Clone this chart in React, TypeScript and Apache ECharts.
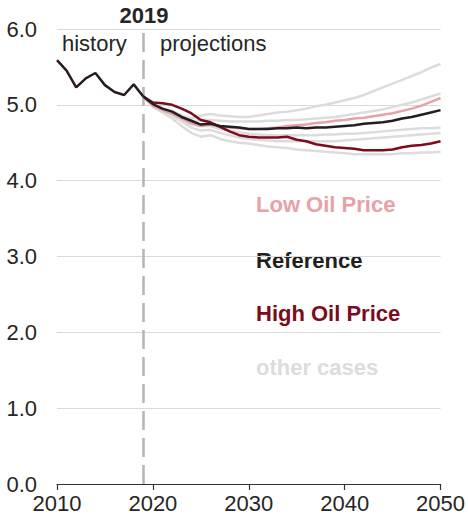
import React, { useEffect, useRef } from "react";
import * as echarts from "echarts";

const historyYears = [2010, 2011, 2012, 2013, 2014, 2015, 2016, 2017, 2018, 2019];
const historyValues = [5.59, 5.45, 5.23, 5.35, 5.42, 5.26, 5.17, 5.13, 5.27, 5.11];

const projYears = [
  2019, 2020, 2021, 2022, 2023, 2024, 2025, 2026, 2027, 2028, 2029, 2030, 2031, 2032, 2033, 2034,
  2035, 2036, 2037, 2038, 2039, 2040, 2041, 2042, 2043, 2044, 2045, 2046, 2047, 2048, 2049, 2050,
];

const referenceValues = [
  5.11, 5.01, 4.95, 4.91, 4.84, 4.79, 4.74, 4.75, 4.72, 4.71, 4.70, 4.68, 4.68, 4.68, 4.69, 4.69,
  4.70, 4.69, 4.70, 4.70, 4.71, 4.72, 4.73, 4.75, 4.76, 4.77, 4.79, 4.82, 4.84, 4.87, 4.90, 4.93,
];
const lowOilValues = [
  5.11, 4.99, 4.93, 4.88, 4.82, 4.76, 4.72, 4.74, 4.71, 4.70, 4.69, 4.68, 4.68, 4.69, 4.70, 4.72,
  4.73, 4.74, 4.76, 4.77, 4.79, 4.80, 4.82, 4.83, 4.85, 4.87, 4.89, 4.92, 4.95, 4.99, 5.04, 5.09,
];
const highOilValues = [
  5.11, 5.03, 5.02, 5.00, 4.95, 4.89, 4.80, 4.77, 4.71, 4.65, 4.60, 4.58, 4.57, 4.57, 4.57, 4.58,
  4.54, 4.52, 4.48, 4.46, 4.44, 4.43, 4.42, 4.40, 4.40, 4.40, 4.41, 4.44, 4.46, 4.47, 4.49, 4.52,
];
const otherCase1 = [
  5.11, 5.00, 4.95, 4.92, 4.86, 4.82, 4.86, 4.88, 4.86, 4.85, 4.84, 4.84, 4.86, 4.88, 4.90, 4.91,
  4.93, 4.95, 4.98, 5.00, 5.03, 5.06, 5.09, 5.13, 5.18, 5.23, 5.28, 5.33, 5.38, 5.43, 5.49, 5.54,
];
const otherCase2 = [
  5.11, 4.99, 4.94, 4.89, 4.83, 4.78, 4.80, 4.80, 4.79, 4.78, 4.78, 4.78, 4.78, 4.79, 4.79, 4.80,
  4.80, 4.81, 4.82, 4.83, 4.84, 4.86, 4.88, 4.90, 4.92, 4.94, 4.97, 5.00, 5.03, 5.07, 5.11, 5.15,
];
const otherCase3 = [
  5.11, 4.99, 4.93, 4.88, 4.80, 4.74, 4.72, 4.72, 4.68, 4.66, 4.64, 4.62, 4.61, 4.60, 4.60, 4.60,
  4.60, 4.60, 4.60, 4.61, 4.61, 4.62, 4.62, 4.63, 4.64, 4.65, 4.66, 4.67, 4.68, 4.69, 4.69, 4.70,
];
const otherCase4 = [
  5.11, 4.98, 4.92, 4.86, 4.78, 4.70, 4.66, 4.67, 4.63, 4.60, 4.57, 4.55, 4.54, 4.53, 4.52, 4.52,
  4.52, 4.52, 4.52, 4.52, 4.52, 4.53, 4.54, 4.55, 4.56, 4.57, 4.58, 4.59, 4.60, 4.61, 4.62, 4.63,
];
const otherCase5 = [
  5.11, 4.97, 4.90, 4.82, 4.72, 4.63, 4.58, 4.60, 4.55, 4.52, 4.50, 4.49, 4.47, 4.45, 4.44, 4.43,
  4.41, 4.40, 4.39, 4.38, 4.37, 4.36, 4.35, 4.35, 4.35, 4.35, 4.35, 4.36, 4.36, 4.37, 4.37, 4.38,
];
const otherCases = [otherCase1, otherCase2, otherCase3, otherCase4, otherCase5];

const yTicks = [0, 1, 2, 3, 4, 5, 6];
const xTicks = [2010, 2020, 2030, 2040, 2050];
const dividerYear = 2019;

const FONT = "'Liberation Sans', Arial, sans-serif";
const FS = 22;
const COLORS = {
  reference: "#231f20",
  low: "#e8a1a9",
  high: "#7d0b1c",
  other: "#dcdcdc",
  text: "#262626",
};

const pair = (xs: number[], ys: number[]) => xs.map((x, i) => [x, ys[i]]);

export default function App() {
  const ref = useRef<HTMLDivElement>(null);
  useEffect(() => {
    document.body.style.margin = "0";
    if (!ref.current) return;
    const chart = echarts.init(ref.current, undefined, { renderer: "svg" });
    const lineBase = {
      type: "line" as const,
      showSymbol: false,
      symbol: "none",
      silent: true,
    };
    const series: any[] = [];
    otherCases.forEach((vals, i) => {
      series.push({
        ...lineBase,
        name: "other" + i,
        data: pair(projYears, vals),
        lineStyle: { color: COLORS.other, width: 2.5 },
        z: 1,
      });
    });
    series.push({
      ...lineBase,
      name: "Low Oil Price",
      data: pair(projYears, lowOilValues),
      lineStyle: { color: COLORS.low, width: 2.5 },
      z: 3,
    });
    series.push({
      ...lineBase,
      name: "High Oil Price",
      data: pair(projYears, highOilValues),
      lineStyle: { color: COLORS.high, width: 2.5 },
      z: 4,
    });
    series.push({
      ...lineBase,
      name: "Reference",
      data: pair(projYears, referenceValues),
      lineStyle: { color: COLORS.reference, width: 2.5 },
      z: 5,
    });
    series.push({
      ...lineBase,
      name: "history",
      data: pair(historyYears, historyValues),
      lineStyle: { color: "#2a1b1f", width: 2.5 },
      z: 5,
      markLine: {
        silent: true,
        symbol: "none",
        label: { show: false },
        lineStyle: { color: "#b5b5b5", width: 2.5, type: [19, 8] },
        data: [{ xAxis: dividerYear }],
      },
    });

    chart.setOption({
      animation: false,
      grid: { left: 57, right: 26, top: 29, bottom: 39, containLabel: false },
      xAxis: {
        type: "value",
        min: xTicks[0],
        max: xTicks[xTicks.length - 1],
        interval: 10,
        axisLine: { show: true, lineStyle: { color: "#333", width: 1.2 } },
        axisTick: { show: true, inside: false, length: 6, lineStyle: { color: "#333", width: 1.2 } },
        splitLine: { show: false },
        axisLabel: {
          color: COLORS.text,
          fontSize: FS,
          fontFamily: FONT,
          margin: 8,
          formatter: (v: number) => String(v),
        },
      },
      yAxis: {
        type: "value",
        min: yTicks[0],
        max: yTicks[yTicks.length - 1],
        interval: 1,
        axisLine: { show: false },
        axisTick: { show: false },
        splitLine: { show: true, lineStyle: { color: "#dadada", width: 1.2 } },
        axisLabel: {
          color: COLORS.text,
          fontSize: FS,
          fontFamily: FONT,
          margin: 20,
          formatter: (v: number) => v.toFixed(1),
        },
      },
      graphic: [
        {
          type: "text",
          x: 144,
          y: 15,
          style: {
            text: "2019",
            font: `bold ${FS}px ${FONT}`,
            fill: COLORS.text,
            textAlign: "center",
            textVerticalAlign: "middle",
          },
        },
        {
          type: "text",
          x: 62,
          y: 43,
          style: {
            text: "history",
            font: `${FS}px ${FONT}`,
            fill: COLORS.text,
            textAlign: "left",
            textVerticalAlign: "middle",
          },
        },
        {
          type: "text",
          x: 160,
          y: 43,
          style: {
            text: "projections",
            font: `${FS}px ${FONT}`,
            fill: COLORS.text,
            textAlign: "left",
            textVerticalAlign: "middle",
          },
        },
        {
          type: "text",
          x: 256,
          y: 204,
          style: { text: "Low Oil Price", font: `bold ${FS}px ${FONT}`, fill: COLORS.low, textVerticalAlign: "middle" },
        },
        {
          type: "text",
          x: 256,
          y: 260,
          style: { text: "Reference", font: `bold ${FS}px ${FONT}`, fill: COLORS.reference, textVerticalAlign: "middle" },
        },
        {
          type: "text",
          x: 256,
          y: 313,
          style: { text: "High Oil Price", font: `bold ${FS}px ${FONT}`, fill: COLORS.high, textVerticalAlign: "middle" },
        },
        {
          type: "text",
          x: 256,
          y: 367,
          style: { text: "other cases", font: `bold ${FS}px ${FONT}`, fill: COLORS.other, textVerticalAlign: "middle" },
        },
      ],
      series,
    });
    return () => chart.dispose();
  }, []);
  return <div ref={ref} style={{ width: 468, height: 523 }} />;
}
